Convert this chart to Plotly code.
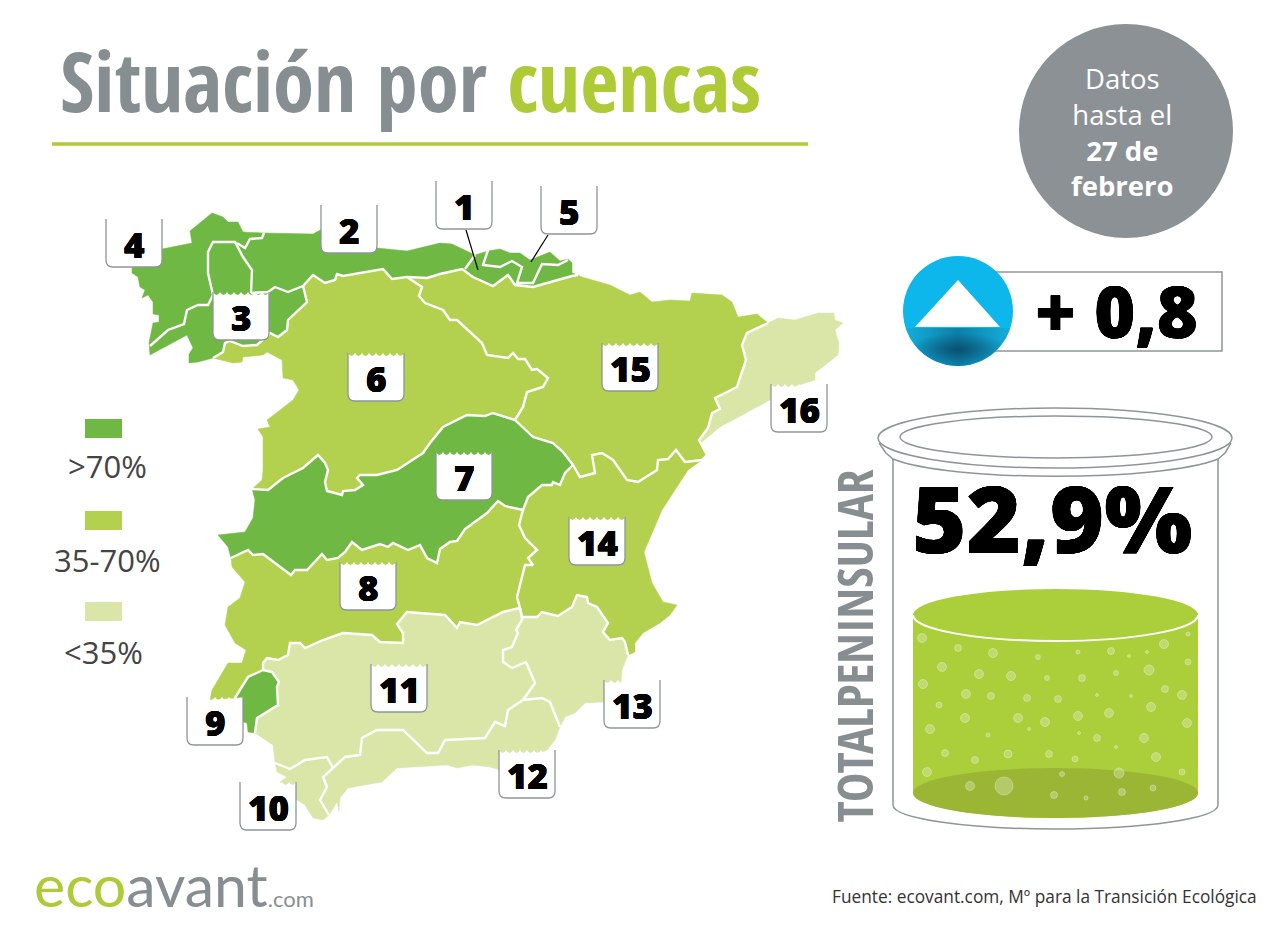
import numpy as np
import plotly.graph_objects as go

GREEN_HIGH = '#6FB843'
GREEN_MID = '#B3D14F'
GREEN_LOW = '#D9E6A8'
LIME = '#AECB37'
GREY = '#878E92'
LINE_GREY = '#8E959A'

north_ebro = [(578,275),(572,276),(547,283),(533,287),(515,285),(508,275),(493,286),(473,277),(462,269),(440,274),(427,278),(407,277)]
north_duero = [(407,277),(392,279),(383,269),(343,276),(337,274),(335,280),(325,283),(313,275),(303,286)]
mino_duero = [(303,286),(307,302),(288,320),(287,330),(278,337),(270,333),(257,345),(243,346),(230,341),(225,343),(223,352),(213,358)]
duero_coast = [(213,358),(233,363),(242,362),(243,357),(263,355),(267,352),(282,360),(283,378),(293,380),(299,390),(293,400),(267,420),(270,427),(258,429),(263,437),(263,470),(262,480),(252,489)]
duero_tajo = [(252,489),(268,490),(283,478),(303,468),(318,455),(325,463),(328,470),(325,482),(327,491),(342,495),(343,491),(355,490),(363,485),(357,478),(360,475),(377,475),(397,470),(423,453),(430,443),(443,427),(467,415),(485,416),(493,413),(515,420)]
duero_ebro = [(407,277),(422,287),(419,296),(425,303),(443,310),(450,320),(457,320),(482,343),(487,355),(508,358),(513,353),(518,359),(525,359),(532,370),(537,369),(548,378),(543,387),(527,392),(523,407),(515,420)]
tajo_ebro = [(515,420),(533,437),(553,443),(563,452),(573,465)]
tajo_jucar = [(573,465),(565,473),(560,485),(553,482),(552,485),(542,485),(528,497),(523,510)]
tajo_guadiana = [(523,510),(505,506),(498,501),(487,513),(465,529),(457,541),(450,542),(440,549),(437,563),(427,558),(420,545),(408,550),(393,543),(388,547),(380,544),(362,550),(352,542),(345,552),(338,558),(327,560),(322,554),(307,570),(295,570),(291,575),(263,554),(253,555),(248,550),(231,558)]
tajo_coast = [(231,558),(228,547),(218,535),(245,532),(253,518),(255,500),(252,489)]
guadiana_jucar = [(523,510),(519,525),(525,538),(537,550),(528,558),(533,565),(525,565),(517,597),(520,608)]
guadiana_guad = [(520,608),(503,612),(477,625),(460,622),(457,628),(445,615),(407,612),(397,624),(403,633),(403,643),(380,642),(372,635),(343,633),(323,640),(305,648),(300,643),(290,643),(288,655),(278,660),(267,658),(263,663),(263,670)]
guadiana_tinto = [(263,670),(248,677),(235,698)]
guadiana_coast = [(235,698),(210,700),(212,690),(228,663),(242,663),(246,650),(235,643),(225,625),(228,607),(240,598),(245,582),(232,567),(231,558)]
tinto_guad = [(263,670),(272,672),(279,682),(277,687),(278,705),(257,718),(255,733)]
tinto_coast = [(255,733),(248,732),(247,723),(243,722),(243,697),(235,698)]
guad_coast = [(255,733),(273,745),(275,763)]
guad_10 = [(275,763),(290,769),(305,760),(327,757),(333,768)]
guad_12 = [(333,768),(345,757),(360,755),(362,738),(377,730),(403,730),(427,753),(438,753),(445,740),(485,738),(495,722),(505,726),(508,710),(523,700)]
guad_13 = [(523,700),(535,683),(526,662),(512,668),(503,662),(503,650),(512,647),(518,633),(516,630),(522,620),(522,617),(520,608)]
b10_12 = [(333,768),(323,777),(327,787),(320,800),(329,815)]
b10_coast = [(329,815),(323,820),(313,818),(305,805),(297,800),(280,782),(287,777),(277,772),(275,763)]
b12_coast = [(329,815),(337,802),(339,811),(340,798),(348,788),(382,782),(397,768),(447,765),(457,768),(473,765),(490,767),(500,770),(547,750),(555,740),(560,727)]
b12_13 = [(560,727),(550,702),(542,698),(523,700)]
b13_coast = [(560,727),(565,717),(575,713),(585,703),(603,702),(621,683),(622,670),(628,655)]
jucar_segura = [(520,608),(522,617),(537,617),(542,612),(558,616),(572,607),(577,595),(587,597),(588,603),(597,607),(608,623),(603,632),(610,640),(622,638),(625,642),(628,655)]
jucar_coast = [(628,655),(635,652),(635,643),(643,633),(660,623),(670,615),(677,605),(663,602),(652,583),(644,552),(662,510),(688,470),(702,460)]
ebro_jucar = [(573,465),(580,477),(595,473),(592,455),(602,453),(613,460),(627,480),(638,482),(657,470),(658,460),(668,459),(676,450),(685,462),(702,460)]
ebro_coast = [(578,275),(582,277),(610,285),(630,295),(640,292),(652,302),(670,300),(690,301),(692,293),(722,295),(732,302),(738,317),(757,314),(768,323)]
ebro_16 = [(768,323),(747,333),(742,345),(746,360),(737,387),(715,398),(720,409),(712,413),(708,428),(699,440),(707,455),(702,460)]
b16_coast = [(699,440),(702,442),(720,427),(770,400),(793,387),(815,380),(815,373),(838,355),(839,343),(835,330),(843,323),(835,320),(834,313),(818,313),(795,320),(778,318),(768,323)]
nw_coast = [(213,358),(198,362),(189,363),(189,354),(193,348),(187,335),(150,355),(149,343),(153,323),(159,322),(159,315),(153,314),(153,302),(148,295),(142,298),(145,290),(140,287),(138,277),(132,273),(132,268),(162,249),(192,243),(190,231),(212,213),(223,217),(228,222),(238,222),(243,232),(263,233),(313,234),(322,229),(377,248),(407,251),(440,243),(452,244),(475,255),(488,251),(500,249),(510,253),(520,253),(530,260),(550,252),(560,261),(568,259),(572,263),(572,273),(578,275)]

# white lines inside the north-west block
inner_lines = [
    [(150,346),(168,330),(184,324),(187,310),(198,305),(208,305),(213,295),(208,273),(208,252),(213,242),(235,242),(243,257),(252,270),(251,293)],
    [(237,243),(245,248),(250,239),(262,238),(264,233)],
    [(251,293),(268,292),(275,287),(288,292),(303,286)],
    [(465,269),(475,255)],
    [(488,250),(483,265),(500,267),(512,261),(522,267),(517,283),(533,283),(542,264),(558,265),(568,260)],
    north_ebro, north_duero, mino_duero, duero_tajo, duero_ebro, tajo_ebro, tajo_jucar, tajo_guadiana,
    guadiana_jucar, guadiana_guad, guadiana_tinto, tinto_guad, guad_10, guad_12, guad_13, b10_12, b12_13,
    jucar_segura, ebro_jucar, ebro_16,
]
leader_lines = [[(466,230),(478,270)], [(548,235),(531,262)]]

basins = [
    ('noroeste', nw_coast + north_ebro + north_duero + mino_duero, GREEN_HIGH),
    ('duero', north_duero + mino_duero + duero_coast + duero_tajo + duero_ebro[::-1], GREEN_MID),
    ('tajo', duero_tajo + tajo_ebro + tajo_jucar + tajo_guadiana + tajo_coast, GREEN_HIGH),
    ('guadiana', tajo_guadiana[::-1] + guadiana_jucar + guadiana_guad + guadiana_tinto + guadiana_coast, GREEN_MID),
    ('tinto', tinto_guad + tinto_coast + guadiana_tinto[::-1], GREEN_HIGH),
    ('guadalquivir', guadiana_guad + tinto_guad + guad_coast + guad_10 + guad_12 + guad_13, GREEN_LOW),
    ('guadalete', guad_10 + b10_12 + b10_coast, GREEN_LOW),
    ('sur', guad_12 + b12_13[::-1] + b12_coast[::-1] + b10_12[::-1], GREEN_LOW),
    ('segura', guad_13[::-1] + b12_13[::-1] + b13_coast + jucar_segura[::-1], GREEN_LOW),
    ('jucar', tajo_jucar + guadiana_jucar + jucar_segura + jucar_coast + ebro_jucar[::-1], GREEN_MID),
    ('ebro', north_ebro + duero_ebro + tajo_ebro + ebro_jucar + ebro_16[::-1] + ebro_coast[::-1], GREEN_MID),
    ('cataluna', ebro_16[:-2] + b16_coast, GREEN_LOW),
]

label_names = ['1','2','3','4','5','6','7','8','9','10','11','12','13','14','15','16']
label_x = [464,349,241,134,569,376,464,368,215,268,399,527,632,597,630,799]
label_top = [181,205,292,219,186,353,452,562,697,782,664,750,680,517,343,384]

legend_labels = ['>70%','35-70%','<35%']
legend_colors = [GREEN_HIGH, GREEN_MID, GREEN_LOW]
legend_box_y = [419,511,602]
legend_text_x = [107,107,103]
legend_text_y = [466,560,652]

bubble_x = [922,958,993,1038,1078,1111,1129,1147,1164,1188,942,979,1011,1047,1082,1116,1149,1188,923,966,991,1027,1058,1097,1131,1165,1182,939,1151,965,1018,1045,1078,1109,1187,930,1029,988,1079,1097,1144,1116,945,1008,1049,975,1075,1156,927,1119,1062,1182,970,1004,1153,1122,1054,1086]
bubble_y = [638,648,653,657,652,651,656,652,644,634,667,674,676,678,678,673,670,662,684,694,696,698,699,695,696,689,695,705,707,718,718,722,716,713,723,729,729,735,733,738,738,747,753,754,754,760,759,757,772,773,774,772,786,786,788,792,795,798]
bubble_size = [9,7,9,5,4,7,3,3,9,4,9,9,9,5,7,5,10,6,9,9,7,7,7,3,3,7,9,6,9,9,9,9,9,9,9,9,3,4,3,7,9,3,7,8,7,7,6,9,9,10,5,6,9,18,6,7,7,4]


def half_ellipse(cx, cy, rx, ry):
    # lower half, left to right
    k = 0.5523
    return (f'C {cx-rx} {cy+k*ry} {cx-k*rx} {cy+ry} {cx} {cy+ry} '
            f'C {cx+k*rx} {cy+ry} {cx+rx} {cy+k*ry} {cx+rx} {cy} ')


def ellipse(cx, cy, rx, ry, **kw):
    return dict(type='circle', x0=cx-rx, x1=cx+rx, y0=cy-ry, y1=cy+ry, **kw)


def disc_cap(y_offset):
    # part of the blue disc below a horizontal cut
    theta = np.linspace(np.arcsin(y_offset/55), np.pi-np.arcsin(y_offset/55), 60)
    return 958+55*np.cos(theta), 311+55*np.sin(theta)


def label_shapes(x, top):
    w, h, r = 56, 48, 7
    left, right, bottom = x-w/2, x+w/2, top+h
    bottom_edge = (f'L {right} {bottom-r} Q {right} {bottom} {right-r} {bottom} '
                   f'L {left+r} {bottom} Q {left} {bottom} {left} {bottom-r} ')
    waves = ''.join(f'Q {left+i*7+3.5} {top+6} {left+(i+1)*7} {top} ' for i in range(8))
    return [
        dict(type='path', path=f'M {left} {top} {waves}{bottom_edge}Z', fillcolor='white',
             line=dict(width=0), layer='above'),
        dict(type='path', path=f'M {right} {top} {bottom_edge}L {left} {top}',
             line=dict(color=LINE_GREY, width=1.3), layer='above'),
    ]


fig = go.Figure()

for name, outline, color in basins:
    xs, ys = zip(*outline)
    fig.add_trace(go.Scatter(x=xs, y=ys, name=name, mode='lines', fill='toself', fillcolor=color,
                             line=dict(color=color, width=0.5), hoverinfo='skip', showlegend=False))
for segment in inner_lines:
    xs, ys = zip(*segment)
    fig.add_trace(go.Scatter(x=xs, y=ys, mode='lines', line=dict(color='white', width=2.4),
                             hoverinfo='skip', showlegend=False))
for segment in leader_lines:
    xs, ys = zip(*segment)
    fig.add_trace(go.Scatter(x=xs, y=ys, mode='lines', line=dict(color='black', width=1.2),
                             hoverinfo='skip', showlegend=False))

# dark part of the blue disc
xs, ys = disc_cap(17)
fig.add_trace(go.Scatter(x=xs, y=ys, mode='lines', fill='toself', line=dict(width=0),
                         hoverinfo='skip', showlegend=False,
                         fillgradient=dict(type='horizontal',
                                           colorscale=[[0, '#14AEDD'], [0.5, '#0C7FA6'], [1, '#14AEDD']])))
xs, ys = disc_cap(22)
fig.add_trace(go.Scatter(x=xs, y=ys, mode='lines', fill='toself', line=dict(width=0),
                         hoverinfo='skip', showlegend=False,
                         fillgradient=dict(type='radial',
                                           colorscale=[[0, 'rgba(8,60,90,0.7)'], [1, 'rgba(8,60,90,0)']])))

shapes = []
# header
shapes.append(dict(type='line', x0=52, x1=808, y0=144, y1=144, line=dict(color=LIME, width=3.5), layer='below'))
shapes.append(ellipse(1126, 131, 107, 107, fillcolor='#8B9194', line=dict(width=0), layer='below'))
# legend swatches
for y0, color in zip(legend_box_y, legend_colors):
    shapes.append(dict(type='rect', x0=85, x1=122, y0=y0, y1=y0+19, fillcolor=color, line=dict(width=0), layer='below'))
# +0,8 box and disc
shapes.append(dict(type='rect', x0=990, x1=1222, y0=272, y1=351, fillcolor='white',
                   line=dict(color=LINE_GREY, width=1.5), layer='below'))
shapes.append(ellipse(958, 311, 55, 55, fillcolor='#0DB7EB', line=dict(width=0), layer='below'))
shapes.append(dict(type='path', path='M 958 280 L 1000 327 L 915 327 Z', fillcolor='white', line=dict(width=0), layer='above'))
# jar
glass = dict(color=LINE_GREY, width=1.5)
shapes.append(ellipse(1055, 438, 177, 30, line=glass, layer='below'))
shapes.append(ellipse(1056, 437, 156, 21, line=glass, layer='below'))
shapes.append(dict(type='path', path='M 879 443 L 886 453 L 893 459 C 950 482 1160 482 1218 459 L 1225 453 L 1231 443',
                   line=glass, layer='below'))
shapes.append(dict(type='path', path='M 893 459 L 893 805 ' + half_ellipse(1055.5, 805, 162.5, 24) + 'L 1218 459',
                   line=glass, layer='below'))
shapes.append(dict(type='path', path='M 913 615 L 913 793 ' + half_ellipse(1055.5, 793, 142.5, 25) + 'L 1198 615 Z',
                   fillcolor='#ABCE3B', line=dict(width=0), layer='below'))
shapes.append(ellipse(1055.5, 793, 142.5, 25, fillcolor='#9AB634', line=dict(width=0), layer='below'))
shapes.append(ellipse(1055.5, 615, 142.5, 26, fillcolor='#ABCE3B', line=dict(width=0), layer='below'))
shapes.append(dict(type='path', path='M 913 615 ' + half_ellipse(1055.5, 615, 142.5, 26),
                   line=dict(color='white', width=2), layer='below'))

for x, top in zip(label_x, label_top):
    shapes.extend(label_shapes(x, top))

fig.add_trace(go.Scatter(x=bubble_x, y=bubble_y, mode='markers', hoverinfo='skip', showlegend=False,
                         marker=dict(size=bubble_size, color='rgba(255,255,255,0.38)',
                                     line=dict(color='rgba(255,255,255,0.6)', width=0.8))))


def note(x, y, text, size, color='black', family='Open Sans', anchor='center', weight=400, **kw):
    fig.add_annotation(x=x, y=y, text=text, showarrow=False, xanchor=anchor, yanchor='middle',
                       font=dict(family=family, size=size, color=color, weight=weight), **kw)


HEAVY_SHADOW = '0.3px 0 0 #000, -0.3px 0 0 #000, 0 0.3px 0 #000, 0 -0.3px 0 #000'
NARROW = 'Open Sans Condensed, DejaVu Sans Condensed, Open Sans'

note(58, 79, f'Situación por <span style="color:{LIME}">cuencas</span>', 83, GREY,
     family=NARROW, anchor='left', weight=700)
note(1122, 132, 'Datos<br>hasta el<br><b>27 de</b><br><b>febrero</b>', 27.5, 'white')
for x, y, text in zip(legend_text_x, legend_text_y, legend_labels):
    note(x, y, text, 31, '#444444')
for x, top, text in zip(label_x, label_top, label_names):
    fig.add_annotation(x=x, y=top+25, text=text, showarrow=False, yanchor='middle',
                       font=dict(family='Open Sans', size=35, color='black', weight=800, shadow=HEAVY_SHADOW))
fig.add_annotation(x=1116, y=311, text='+ 0,8', showarrow=False,
                   font=dict(family='Open Sans', size=70, color='black', weight=800, shadow=HEAVY_SHADOW))
fig.add_annotation(x=1052, y=517, text='52,9%', showarrow=False,
                   font=dict(family='Open Sans', size=93, color='black', weight=800, shadow=HEAVY_SHADOW))
note(853.5, 646, 'TOTALPENINSULAR', 49, GREY, family=NARROW, weight=700, textangle=-90)
note(32, 884, f'<span style="color:{LIME}">eco</span>avant<span style="font-size:22px">.com</span>', 59, GREY,
     family='Lato', anchor='left', weight=400)
note(1259, 896, 'Fuente: ecovant.com, Mº para la Transición Ecológica', 17.3, '#333333', anchor='right')

fig.update_layout(width=1280, height=933, margin=dict(l=0, r=0, t=0, b=0), paper_bgcolor='white',
                  plot_bgcolor='white', showlegend=False, shapes=shapes,
                  xaxis=dict(range=[0, 1280], visible=False, fixedrange=True),
                  yaxis=dict(range=[933, 0], visible=False, fixedrange=True))
fig.write_html("out.html", config=dict(displayModeBar=False),
               post_script="document.body.style.margin='0';")
